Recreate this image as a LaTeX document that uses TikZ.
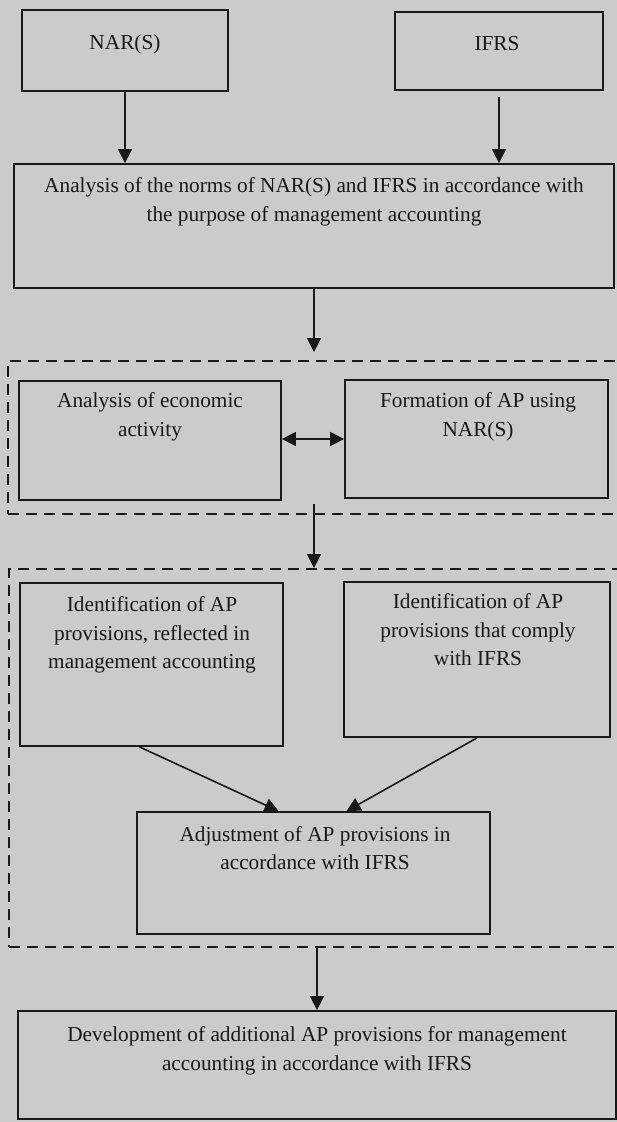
\documentclass[tikz,border=0pt]{standalone}
\usepackage{fontspec}
\setmainfont{Liberation Serif}
\usetikzlibrary{arrows.meta,calc}
\definecolor{paper}{RGB}{203,203,201}
\definecolor{ink}{RGB}{25,25,25}
\tikzset{
  box/.style={draw=ink, line width=1.8pt, rectangle, inner sep=0pt},
  grp/.style={draw=ink, line width=1.8pt, dash pattern=on 11pt off 7pt, rectangle, inner sep=0pt},
  txt/.style={text=ink, align=center, inner sep=0pt, font=\fontsize{21.3}{28.5}\selectfont},
  arr/.style={draw=ink, line width=1.6pt, -{Triangle[length=14pt,width=14pt]}},
  darr/.style={draw=ink, line width=1.6pt, {Triangle[length=14pt,width=14pt]}-{Triangle[length=14pt,width=14pt]}}
}
\begin{document}
\begin{tikzpicture}[x=1pt,y=-1pt]
\fill[paper] (0,0) rectangle (617,1122);
\useasboundingbox (0,0) rectangle (617,1122);

% boxes
\node[box, minimum width=206pt, minimum height=81pt] (nar) at (125,50.5) {};
\node[box, minimum width=208pt, minimum height=78pt] (ifrs) at (499,51) {};
\node[box, minimum width=600pt, minimum height=124pt] (norms) at (314,226) {};

\node[grp, minimum width=632pt, minimum height=153pt] (g1) at (324,437.5) {};
\node[box, minimum width=262pt, minimum height=119pt] (econ) at (150,440.5) {};
\node[box, minimum width=263pt, minimum height=118pt] (form) at (476.5,439) {};

\node[grp, minimum width=631pt, minimum height=378pt] (g2) at (324.5,758) {};
\node[box, minimum width=263pt, minimum height=163pt] (id1) at (151.5,664.5) {};
\node[box, minimum width=266pt, minimum height=155pt] (id2) at (477,659.5) {};
\node[box, minimum width=353pt, minimum height=122pt] (adj) at (313.5,873) {};

\node[box, minimum width=598pt, minimum height=108pt] (dev) at (317,1065) {};

% texts
\node[txt] (tnar) at (125,44) {NAR(S)};
\node[txt] (tifrs) at (497,44) {IFRS};
\node[txt] (tnorms) at (314,202) {Analysis of the norms of NAR(S) and IFRS in accordance with\\the purpose of management accounting};
\node[txt] (tecon) at (150,417) {Analysis of economic\\activity};
\node[txt] (tform) at (478,417) {Formation of AP using\\NAR(S)};
\node[txt] (tid1) at (152,635) {Identification of AP\\provisions, reflected in\\management accounting};
\node[txt] (tid2) at (478,630) {Identification of AP\\provisions that comply\\with IFRS};
\node[txt] (tadj) at (315,848) {Adjustment of AP provisions in\\accordance with IFRS};
\node[txt] (tdev) at (317,1051) {Development of additional AP provisions for management\\accounting in accordance with IFRS};

% connectors
\draw[arr] (nar.south) -- (nar.south |- norms.north);
\draw[arr] ([yshift=-6pt]ifrs.south) -- (ifrs.south |- norms.north);
\draw[arr] (norms.south) -- ([yshift=8pt]norms.south |- g1.north);
\draw[darr] (econ.east |- form.west) -- (form.west);
\draw[arr] ([yshift=11pt]g1.south -| norms.south) -- (g2.north -| norms.south);
\draw[arr] ([xshift=-12pt]id1.south) -- ([xshift=-35pt]adj.north);
\draw[arr] (id2.south) -- ([xshift=33pt]adj.north);
\draw[arr] (g2.south -| dev.north) -- (dev.north);
\end{tikzpicture}
\end{document}
